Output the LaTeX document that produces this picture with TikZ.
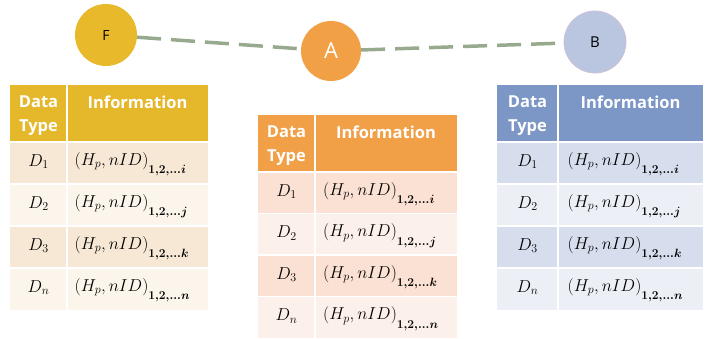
\documentclass[tikz,border=0pt]{standalone}
\usepackage{fontspec}
\usepackage{bm}
\setsansfont{Open Sans}

% table palettes: header, odd rows, even rows
\definecolor{goldhead}{RGB}{229,183,42}
\definecolor{goldodd}{RGB}{246,232,213}
\definecolor{goldeven}{RGB}{251,245,236}
\definecolor{orangehead}{RGB}{241,160,72}
\definecolor{orangeodd}{RGB}{250,225,211}
\definecolor{orangeeven}{RGB}{252,241,234}
\definecolor{bluehead}{RGB}{124,150,198}
\definecolor{blueodd}{RGB}{214,221,236}
\definecolor{blueeven}{RGB}{236,240,246}
% peers and the link between them
\definecolor{linkgreen}{RGB}{152,170,142}
\definecolor{peerF}{RGB}{232,185,42}
\definecolor{peerA}{RGB}{242,160,70}
\definecolor{peerB}{RGB}{186,198,224}
\definecolor{peerBrim}{RGB}{206,192,216}

\tikzset{
  peer/.style={circle, inner sep=0pt, font=\sffamily},
  link/.style={draw=linkgreen, line width=3.5pt, dash pattern=on 24pt off 10pt},
  headtext/.style={text=white, font=\fontsize{16.5}{23.5}\selectfont\sffamily\bfseries,
                   align=center, inner sep=0pt, anchor=north},
  cell/.style={inner sep=0pt, font=\fontsize{17.5}{20}\selectfont, anchor=base},
  infocell/.style={cell, anchor=base west},
  rule/.style={draw=white, line width=1.5pt}
}

% lowered bold index range of an entry
\newcommand\idxrange[1]{\raisebox{-6pt}{$\scriptstyle\bm{1,2,\ldots #1}$}}

% #1 name prefix, #2 left x, #3 column divider x, #4 right x,
% #5 top y, #6 row height, #7 palette
\newcommand\datatable[7]{%
  \pgfmathsetmacro\hbot{#5+57}%
  \fill[#7head] (#2,#5) rectangle (#4,\hbot);
  \node[headtext] (#1-type) at ({(#2+#3)/2},#5+11) {Data\\Type};
  \node[headtext] (#1-info) at ({(#3+#4)/2},#5+11) {Information};
  \foreach \sym/\last [count=\r] in {1/i,2/j,3/k,n/n}{
    \pgfmathsetmacro\rtop{\hbot+(\r-1)*#6}%
    \pgfmathsetmacro\rbot{\rtop+#6}%
    \pgfmathtruncatemacro\odd{mod(\r,2)}%
    \ifnum\odd=1 \def\rowcol{#7odd}\else\def\rowcol{#7even}\fi
    \fill[\rowcol] (#2,\rtop) rectangle (#4,\rbot);
    \draw[rule] (#2,\rtop) -- (#4,\rtop);
    \node[cell] (#1-d\r) at ({(#2+#3)/2},\rtop+24) {$D_{\sym}$};
    \node[infocell] (#1-h\r) at ({(#3+#4)/2-63},\rtop+23)
      {$(H_p, nID)_{\idxrange{\last}}$};
  }
  \draw[rule] (#3,#5) -- (#3,{\hbot+4*#6});
}

\begin{document}
\begin{tikzpicture}[x=1pt, y=-1pt]
  \useasboundingbox (0,0) rectangle (705,338);

  % peers
  \node[peer, fill=peerF, minimum size=62pt, font=\fontsize{14}{14}\selectfont\sffamily]
    (F) at (106,35) {F};
  \node[peer, fill=peerA, minimum size=60pt, text=white,
        font=\fontsize{22}{22}\selectfont\sffamily] (A) at (331,51) {A};
  \node[peer, fill=peerB, draw=peerBrim, line width=0.8pt, minimum size=62pt,
        font=\fontsize{15}{15}\selectfont\sffamily] (B) at (595,42) {B};

  \draw[link] (F) -- (A);
  \draw[link] (A) -- (B);

  % per-peer data tables
  \datatable{tf}{10}{67}{208}{85}{42}{gold}
  \datatable{ta}{258}{315}{457}{115}{41.5}{orange}
  \datatable{tb}{497}{558}{703}{85}{42}{blue}
\end{tikzpicture}
\end{document}
